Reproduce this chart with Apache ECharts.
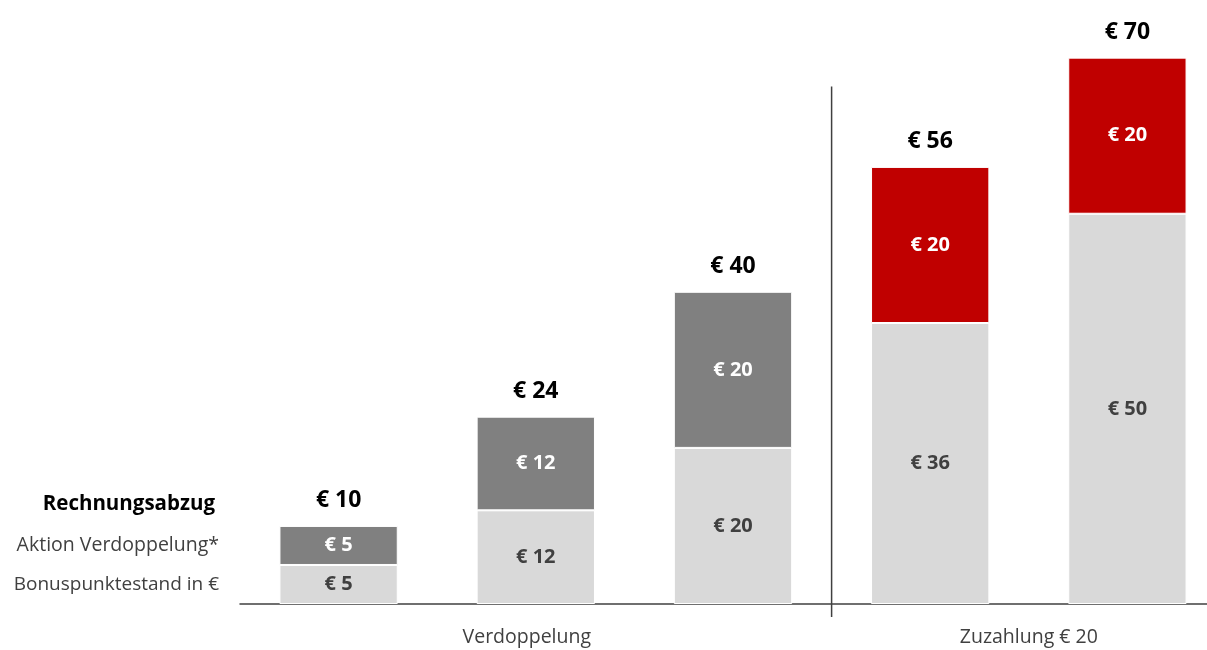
<!DOCTYPE html>
<html><head><meta charset="utf-8">
<script src="https://cdn.jsdelivr.net/npm/echarts@6.0.0/dist/echarts.min.js"></script>
<style>html,body{margin:0;padding:0;background:#fff}#c{width:1207px;height:650px}</style>
</head><body><div id="c"></div>
<script>
// ---- data ----
const categories = ['V1', 'V2', 'V3', 'Z1', 'Z2'];
const bonus = [5, 12, 20, 36, 50];
const verdoppelung = [5, 12, 20, '-', '-'];
const zuzahlung = ['-', '-', '-', 20, 20];
const totals = [10, 24, 40, 56, 70];
const rowLabels = ['Rechnungsabzug', 'Aktion Verdoppelung*', 'Bonuspunktestand in €'];
const groupLabels = ['Verdoppelung', 'Zuzahlung € 20'];
const groupMembers = [['V1', 'V2', 'V3'], ['Z1', 'Z2']];

const FONT = '"Open Sans", "Noto Sans", sans-serif';
const chart = echarts.init(document.getElementById('c'));

function segLabel(color) {
  return {
    show: true, position: 'inside', color: color, fontFamily: FONT,
    fontWeight: 'bold', fontSize: 20,
    formatter: p => '€ ' + p.value
  };
}

chart.setOption({
  animation: false,
  backgroundColor: '#fff',
  grid: { left: 240, width: 986, top: 3, bottom: 46, outerBoundsMode: 'none', containLabel: false },
  xAxis: {
    type: 'category', data: categories,
    axisLine: { show: true, lineStyle: { color: '#404040', width: 1.5 } },
    axisTick: { show: false }, axisLabel: { show: false }, splitLine: { show: false }
  },
  yAxis: { type: 'value', min: 0, max: 77, show: false },
  series: [
    {
      name: rowLabels[2], type: 'bar', stack: 'a', data: bonus, barCategoryGap: '40%',
      itemStyle: { color: '#d9d9d9', borderColor: '#fff', borderWidth: 1 },
      label: segLabel('#404040')
    },
    {
      name: rowLabels[1], type: 'bar', stack: 'a', data: verdoppelung,
      itemStyle: { color: '#808080', borderColor: '#fff', borderWidth: 1 },
      label: segLabel('#ffffff')
    },
    {
      name: 'Zuzahlung', type: 'bar', stack: 'a', data: zuzahlung,
      itemStyle: { color: '#c00000', borderColor: '#fff', borderWidth: 1 },
      label: segLabel('#ffffff')
    },
    {
      name: rowLabels[0], type: 'bar', stack: 'a', data: totals.map(() => 0),
      itemStyle: { color: 'transparent' },
      label: {
        show: true, position: 'top', distance: 14, color: '#000', fontFamily: FONT,
        fontWeight: 'bold', fontSize: 23,
        formatter: p => '€ ' + totals[p.dataIndex]
      }
    }
  ]
});

// ---- decorations placed through the chart's own scales ----
const px = c => chart.convertToPixel({ xAxisIndex: 0 }, c);
const py = v => chart.convertToPixel({ yAxisIndex: 0 }, v);
const sepX = (px(categories[2]) + px(categories[3])) / 2;
const y0 = py(0);
const graphics = [
  { type: 'line', shape: { x1: sepX, y1: py(66.3), x2: sepX, y2: y0 + 13 },
    style: { stroke: '#404040', lineWidth: 1.5 } },
  { type: 'text', x: 215, y: py(totals[0]) - 22,
    style: { text: rowLabels[0], align: 'right', verticalAlign: 'middle', fill: '#000',
      font: 'bold 20.5px ' + FONT } },
  { type: 'text', x: 219, y: py(bonus[0] + 5 / 2),
    style: { text: rowLabels[1], align: 'right', verticalAlign: 'middle', fill: '#404040',
      font: '19.5px ' + FONT } },
  { type: 'text', x: 219, y: py(bonus[0] / 2),
    style: { text: rowLabels[2], align: 'right', verticalAlign: 'middle', fill: '#404040',
      font: '19px ' + FONT } }
];
const groupOffsets = [-9, 0];
groupLabels.forEach((g, i) => {
  const xs = groupMembers[i].map(px);
  const cx = xs.reduce((a, b) => a + b, 0) / xs.length + groupOffsets[i];
  graphics.push({ type: 'text', x: cx, y: y0 + 33,
    style: { text: g, align: 'center', verticalAlign: 'middle', fill: '#404040',
      font: '19.5px ' + FONT } });
});
chart.setOption({ graphic: graphics });
</script></body></html>
